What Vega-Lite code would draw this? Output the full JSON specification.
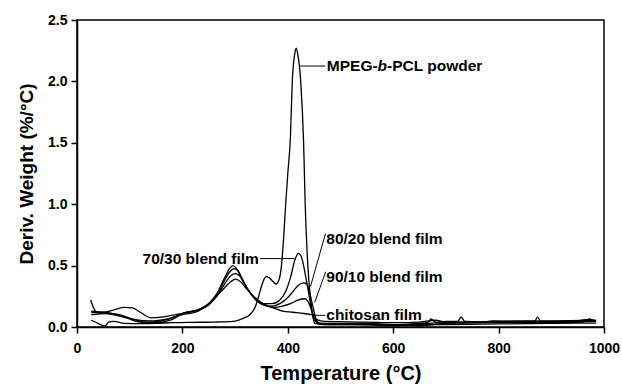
{
  "$schema": "https://vega.github.io/schema/vega-lite/v6.json",
  "width": 527,
  "height": 307,
  "autosize": {"type": "none"},
  "padding": {"left": 77, "top": 20, "right": 18, "bottom": 58},
  "background": "white",
  "config": {"view": {"stroke": "black", "strokeWidth": 1.5}},
  "layer": [
    {
      "data": {"values": [
      {"s": "mpeg", "t": 27, "v": 0.055}, {"s": "mpeg", "t": 40, "v": 0.03}, {"s": "mpeg", "t": 53, "v": 0.008}, {"s": "mpeg", "t": 60, "v": 0.04}, {"s": "mpeg", "t": 70, "v": 0.045}, {"s": "mpeg", "t": 90, "v": 0.03}, {"s": "mpeg", "t": 120, "v": 0.028}, {"s": "mpeg", "t": 150, "v": 0.03}, {"s": "mpeg", "t": 180, "v": 0.035}, {"s": "mpeg", "t": 220, "v": 0.038}, {"s": "mpeg", "t": 260, "v": 0.04}, {"s": "mpeg", "t": 296, "v": 0.045}, {"s": "mpeg", "t": 315, "v": 0.07}, {"s": "mpeg", "t": 328, "v": 0.1}, {"s": "mpeg", "t": 338, "v": 0.16}, {"s": "mpeg", "t": 344, "v": 0.24}, {"s": "mpeg", "t": 350, "v": 0.33}, {"s": "mpeg", "t": 355, "v": 0.39}, {"s": "mpeg", "t": 359, "v": 0.41}, {"s": "mpeg", "t": 365, "v": 0.4}, {"s": "mpeg", "t": 372, "v": 0.37}, {"s": "mpeg", "t": 378, "v": 0.35}, {"s": "mpeg", "t": 383, "v": 0.38}, {"s": "mpeg", "t": 388, "v": 0.5}, {"s": "mpeg", "t": 392, "v": 0.72}, {"s": "mpeg", "t": 396, "v": 1.0}, {"s": "mpeg", "t": 400, "v": 1.25}, {"s": "mpeg", "t": 405, "v": 1.55}, {"s": "mpeg", "t": 408.5, "v": 2.0}, {"s": "mpeg", "t": 413, "v": 2.22}, {"s": "mpeg", "t": 416, "v": 2.27}, {"s": "mpeg", "t": 419, "v": 2.22}, {"s": "mpeg", "t": 424.5, "v": 2.0}, {"s": "mpeg", "t": 430, "v": 1.5}, {"s": "mpeg", "t": 433, "v": 1.0}, {"s": "mpeg", "t": 438, "v": 0.5}, {"s": "mpeg", "t": 444, "v": 0.2}, {"s": "mpeg", "t": 451, "v": 0.03}, {"s": "mpeg", "t": 470, "v": 0.02}, {"s": "mpeg", "t": 520, "v": 0.02}, {"s": "mpeg", "t": 600, "v": 0.012}, {"s": "mpeg", "t": 650, "v": 0.02}, {"s": "mpeg", "t": 700, "v": 0.02}, {"s": "mpeg", "t": 800, "v": 0.025}, {"s": "mpeg", "t": 900, "v": 0.03}, {"s": "mpeg", "t": 985, "v": 0.032},

      {"s": "7030", "t": 26, "v": 0.22}, {"s": "7030", "t": 32, "v": 0.15}, {"s": "7030", "t": 37, "v": 0.12}, {"s": "7030", "t": 60, "v": 0.11}, {"s": "7030", "t": 80, "v": 0.09}, {"s": "7030", "t": 110, "v": 0.06}, {"s": "7030", "t": 140, "v": 0.05}, {"s": "7030", "t": 170, "v": 0.065}, {"s": "7030", "t": 200, "v": 0.1}, {"s": "7030", "t": 230, "v": 0.13}, {"s": "7030", "t": 250, "v": 0.19}, {"s": "7030", "t": 265, "v": 0.27}, {"s": "7030", "t": 280, "v": 0.4}, {"s": "7030", "t": 290, "v": 0.48}, {"s": "7030", "t": 296, "v": 0.5}, {"s": "7030", "t": 302, "v": 0.48}, {"s": "7030", "t": 312, "v": 0.4}, {"s": "7030", "t": 325, "v": 0.3}, {"s": "7030", "t": 340, "v": 0.22}, {"s": "7030", "t": 355, "v": 0.19}, {"s": "7030", "t": 370, "v": 0.19}, {"s": "7030", "t": 385, "v": 0.22}, {"s": "7030", "t": 397, "v": 0.3}, {"s": "7030", "t": 405, "v": 0.4}, {"s": "7030", "t": 413, "v": 0.54}, {"s": "7030", "t": 420, "v": 0.6}, {"s": "7030", "t": 425, "v": 0.58}, {"s": "7030", "t": 430, "v": 0.5}, {"s": "7030", "t": 436, "v": 0.36}, {"s": "7030", "t": 441, "v": 0.24}, {"s": "7030", "t": 446, "v": 0.12}, {"s": "7030", "t": 451, "v": 0.05}, {"s": "7030", "t": 460, "v": 0.03}, {"s": "7030", "t": 500, "v": 0.03}, {"s": "7030", "t": 550, "v": 0.03}, {"s": "7030", "t": 600, "v": 0.02}, {"s": "7030", "t": 650, "v": 0.03}, {"s": "7030", "t": 665, "v": 0.035}, {"s": "7030", "t": 672, "v": 0.065}, {"s": "7030", "t": 680, "v": 0.04}, {"s": "7030", "t": 700, "v": 0.045}, {"s": "7030", "t": 722, "v": 0.045}, {"s": "7030", "t": 729, "v": 0.08}, {"s": "7030", "t": 736, "v": 0.045}, {"s": "7030", "t": 800, "v": 0.04}, {"s": "7030", "t": 850, "v": 0.045}, {"s": "7030", "t": 868, "v": 0.045}, {"s": "7030", "t": 874, "v": 0.08}, {"s": "7030", "t": 880, "v": 0.045}, {"s": "7030", "t": 950, "v": 0.05}, {"s": "7030", "t": 965, "v": 0.06}, {"s": "7030", "t": 985, "v": 0.05},

      {"s": "8020", "t": 27, "v": 0.13}, {"s": "8020", "t": 50, "v": 0.12}, {"s": "8020", "t": 80, "v": 0.1}, {"s": "8020", "t": 110, "v": 0.06}, {"s": "8020", "t": 130, "v": 0.04}, {"s": "8020", "t": 160, "v": 0.05}, {"s": "8020", "t": 190, "v": 0.09}, {"s": "8020", "t": 200, "v": 0.11}, {"s": "8020", "t": 230, "v": 0.14}, {"s": "8020", "t": 250, "v": 0.19}, {"s": "8020", "t": 265, "v": 0.26}, {"s": "8020", "t": 280, "v": 0.38}, {"s": "8020", "t": 290, "v": 0.45}, {"s": "8020", "t": 298, "v": 0.475}, {"s": "8020", "t": 305, "v": 0.46}, {"s": "8020", "t": 315, "v": 0.38}, {"s": "8020", "t": 325, "v": 0.3}, {"s": "8020", "t": 340, "v": 0.22}, {"s": "8020", "t": 355, "v": 0.18}, {"s": "8020", "t": 370, "v": 0.17}, {"s": "8020", "t": 385, "v": 0.19}, {"s": "8020", "t": 400, "v": 0.24}, {"s": "8020", "t": 410, "v": 0.29}, {"s": "8020", "t": 420, "v": 0.34}, {"s": "8020", "t": 430, "v": 0.36}, {"s": "8020", "t": 436, "v": 0.35}, {"s": "8020", "t": 442, "v": 0.27}, {"s": "8020", "t": 448, "v": 0.16}, {"s": "8020", "t": 454, "v": 0.06}, {"s": "8020", "t": 460, "v": 0.03}, {"s": "8020", "t": 550, "v": 0.025}, {"s": "8020", "t": 600, "v": 0.012}, {"s": "8020", "t": 650, "v": 0.025}, {"s": "8020", "t": 700, "v": 0.035}, {"s": "8020", "t": 760, "v": 0.035}, {"s": "8020", "t": 790, "v": 0.05}, {"s": "8020", "t": 820, "v": 0.045}, {"s": "8020", "t": 900, "v": 0.04}, {"s": "8020", "t": 985, "v": 0.045},

      {"s": "9010", "t": 27, "v": 0.1}, {"s": "9010", "t": 55, "v": 0.11}, {"s": "9010", "t": 90, "v": 0.08}, {"s": "9010", "t": 120, "v": 0.04}, {"s": "9010", "t": 150, "v": 0.035}, {"s": "9010", "t": 180, "v": 0.06}, {"s": "9010", "t": 200, "v": 0.11}, {"s": "9010", "t": 230, "v": 0.14}, {"s": "9010", "t": 250, "v": 0.18}, {"s": "9010", "t": 265, "v": 0.25}, {"s": "9010", "t": 280, "v": 0.35}, {"s": "9010", "t": 290, "v": 0.41}, {"s": "9010", "t": 300, "v": 0.435}, {"s": "9010", "t": 308, "v": 0.42}, {"s": "9010", "t": 318, "v": 0.35}, {"s": "9010", "t": 330, "v": 0.27}, {"s": "9010", "t": 345, "v": 0.2}, {"s": "9010", "t": 360, "v": 0.17}, {"s": "9010", "t": 375, "v": 0.16}, {"s": "9010", "t": 390, "v": 0.17}, {"s": "9010", "t": 405, "v": 0.19}, {"s": "9010", "t": 420, "v": 0.22}, {"s": "9010", "t": 432, "v": 0.23}, {"s": "9010", "t": 438, "v": 0.21}, {"s": "9010", "t": 444, "v": 0.15}, {"s": "9010", "t": 450, "v": 0.08}, {"s": "9010", "t": 456, "v": 0.04}, {"s": "9010", "t": 470, "v": 0.02}, {"s": "9010", "t": 600, "v": 0.02}, {"s": "9010", "t": 650, "v": 0.01}, {"s": "9010", "t": 700, "v": 0.03}, {"s": "9010", "t": 800, "v": 0.035}, {"s": "9010", "t": 900, "v": 0.035}, {"s": "9010", "t": 960, "v": 0.04}, {"s": "9010", "t": 972, "v": 0.065}, {"s": "9010", "t": 985, "v": 0.045},

      {"s": "chit", "t": 27, "v": 0.12}, {"s": "chit", "t": 50, "v": 0.12}, {"s": "chit", "t": 70, "v": 0.14}, {"s": "chit", "t": 90, "v": 0.16}, {"s": "chit", "t": 105, "v": 0.155}, {"s": "chit", "t": 120, "v": 0.12}, {"s": "chit", "t": 141, "v": 0.075}, {"s": "chit", "t": 160, "v": 0.08}, {"s": "chit", "t": 179, "v": 0.095}, {"s": "chit", "t": 200, "v": 0.11}, {"s": "chit", "t": 236, "v": 0.15}, {"s": "chit", "t": 250, "v": 0.19}, {"s": "chit", "t": 265, "v": 0.25}, {"s": "chit", "t": 280, "v": 0.32}, {"s": "chit", "t": 292, "v": 0.37}, {"s": "chit", "t": 301, "v": 0.39}, {"s": "chit", "t": 310, "v": 0.37}, {"s": "chit", "t": 320, "v": 0.32}, {"s": "chit", "t": 335, "v": 0.25}, {"s": "chit", "t": 350, "v": 0.2}, {"s": "chit", "t": 370, "v": 0.16}, {"s": "chit", "t": 390, "v": 0.13}, {"s": "chit", "t": 410, "v": 0.12}, {"s": "chit", "t": 430, "v": 0.11}, {"s": "chit", "t": 445, "v": 0.1}, {"s": "chit", "t": 455, "v": 0.06}, {"s": "chit", "t": 470, "v": 0.045}, {"s": "chit", "t": 550, "v": 0.04}, {"s": "chit", "t": 600, "v": 0.035}, {"s": "chit", "t": 650, "v": 0.04}, {"s": "chit", "t": 680, "v": 0.055}, {"s": "chit", "t": 700, "v": 0.04}, {"s": "chit", "t": 800, "v": 0.045}, {"s": "chit", "t": 830, "v": 0.05}, {"s": "chit", "t": 900, "v": 0.05}, {"s": "chit", "t": 985, "v": 0.055}
      ]},
      "mark": {"type": "line", "color": "black", "strokeWidth": 1.3, "interpolate": "monotone"},
      "encoding": {
        "x": {
          "field": "t", "type": "quantitative",
          "scale": {"domain": [0, 1000], "nice": false},
          "axis": {
            "values": [0, 200, 400, 600, 800, 1000],
            "format": "d",
            "labelOverlap": false,
            "labelFlush": false,
            "grid": false,
            "domainColor": "black",
            "domainWidth": 1.5,
            "ticks": true,
            "tickColor": "black",
            "tickWidth": 1.5,
            "tickSize": 6,
            "labelFont": "Liberation Sans",
            "labelFontWeight": "bold",
            "labelFontSize": 14,
            "labelColor": "black",
            "labelPadding": 8,
            "title": "Temperature (°C)",
            "titleFont": "Liberation Sans",
            "titleFontWeight": "bold",
            "titleColor": "black",
            "titleFontSize": 20,
            "titlePadding": 8
          }
        },
        "y": {
          "field": "v", "type": "quantitative",
          "scale": {"domain": [0, 2.5], "nice": false},
          "axis": {
            "values": [0, 0.5, 1.0, 1.5, 2.0, 2.5],
            "format": ".1f",
            "labelOverlap": false,
            "labelFlush": false,
            "grid": false,
            "domainColor": "black",
            "domainWidth": 1.5,
            "ticks": true,
            "tickColor": "black",
            "tickWidth": 1.5,
            "tickSize": 6,
            "labelFont": "Liberation Sans",
            "labelFontWeight": "bold",
            "labelFontSize": 14,
            "labelColor": "black",
            "labelPadding": 4,
            "title": "Deriv. Weight (%/°C)",
            "titleFont": "Liberation Sans",
            "titleFontWeight": "bold",
            "titleColor": "black",
            "titleFontSize": 19,
            "titlePadding": 11
          }
        },
        "detail": {"field": "s", "type": "nominal"}
      }
    },
    {
      "mark": {"type": "rule", "color": "black", "strokeWidth": 1.5},
      "encoding": {"y": {"datum": 2.5, "type": "quantitative"}}
    },
    {
      "mark": {"type": "rule", "color": "black", "strokeWidth": 1.5},
      "encoding": {"x": {"datum": 1000, "type": "quantitative"}}
    },
    {
      "data": {"values": [
        {"x": 423, "y": 2.125, "x2": 471, "y2": 2.125},
        {"x": 347, "y": 0.557, "x2": 413, "y2": 0.557},
        {"x": 471.5, "y": 0.76, "x2": 443, "y2": 0.33},
        {"x": 472, "y": 0.45, "x2": 451, "y2": 0.2},
        {"x": 448, "y": 0.095, "x2": 471, "y2": 0.095}
      ]},
      "mark": {"type": "rule", "color": "black", "strokeWidth": 1},
      "encoding": {
        "x": {"field": "x", "type": "quantitative"},
        "y": {"field": "y", "type": "quantitative"},
        "x2": {"field": "x2"},
        "y2": {"field": "y2"}
      }
    },
    {
      "data": {"values": [
        {"label": "80/20 blend film", "x": 473, "y": 0.72},
        {"label": "90/10 blend film", "x": 473, "y": 0.41},
        {"label": "chitosan film", "x": 473, "y": 0.1}
      ]},
      "mark": {"type": "text", "align": "left", "baseline": "middle", "font": "Liberation Sans", "fontWeight": "bold", "fontSize": 15.5, "color": "black"},
      "encoding": {
        "x": {"field": "x", "type": "quantitative"},
        "y": {"field": "y", "type": "quantitative"},
        "text": {"field": "label"}
      }
    },
    {
      "data": {"values": [
        {"label": "70/30 blend film", "x": 345, "y": 0.557}
      ]},
      "mark": {"type": "text", "align": "right", "baseline": "middle", "font": "Liberation Sans", "fontWeight": "bold", "fontSize": 15.5, "color": "black"},
      "encoding": {
        "x": {"field": "x", "type": "quantitative"},
        "y": {"field": "y", "type": "quantitative"},
        "text": {"field": "label"}
      }
    },
    {
      "data": {"values": [{"label": "MPEG-", "x": 474, "y": 2.125}]},
      "mark": {"type": "text", "align": "left", "baseline": "middle", "font": "Liberation Sans", "fontWeight": "bold", "fontSize": 15.5, "color": "black"},
      "encoding": {
        "x": {"field": "x", "type": "quantitative"},
        "y": {"field": "y", "type": "quantitative"},
        "text": {"field": "label"}
      }
    },
    {
      "data": {"values": [{"label": "b", "x": 474, "y": 2.125}]},
      "mark": {"type": "text", "align": "left", "baseline": "middle", "font": "Liberation Sans", "fontWeight": "bold", "fontStyle": "italic", "fontSize": 15.5, "color": "black", "dx": 50.8},
      "encoding": {
        "x": {"field": "x", "type": "quantitative"},
        "y": {"field": "y", "type": "quantitative"},
        "text": {"field": "label"}
      }
    },
    {
      "data": {"values": [{"label": "-PCL powder", "x": 474, "y": 2.125}]},
      "mark": {"type": "text", "align": "left", "baseline": "middle", "font": "Liberation Sans", "fontWeight": "bold", "fontSize": 15.5, "color": "black", "dx": 60.3},
      "encoding": {
        "x": {"field": "x", "type": "quantitative"},
        "y": {"field": "y", "type": "quantitative"},
        "text": {"field": "label"}
      }
    }
  ]
}
